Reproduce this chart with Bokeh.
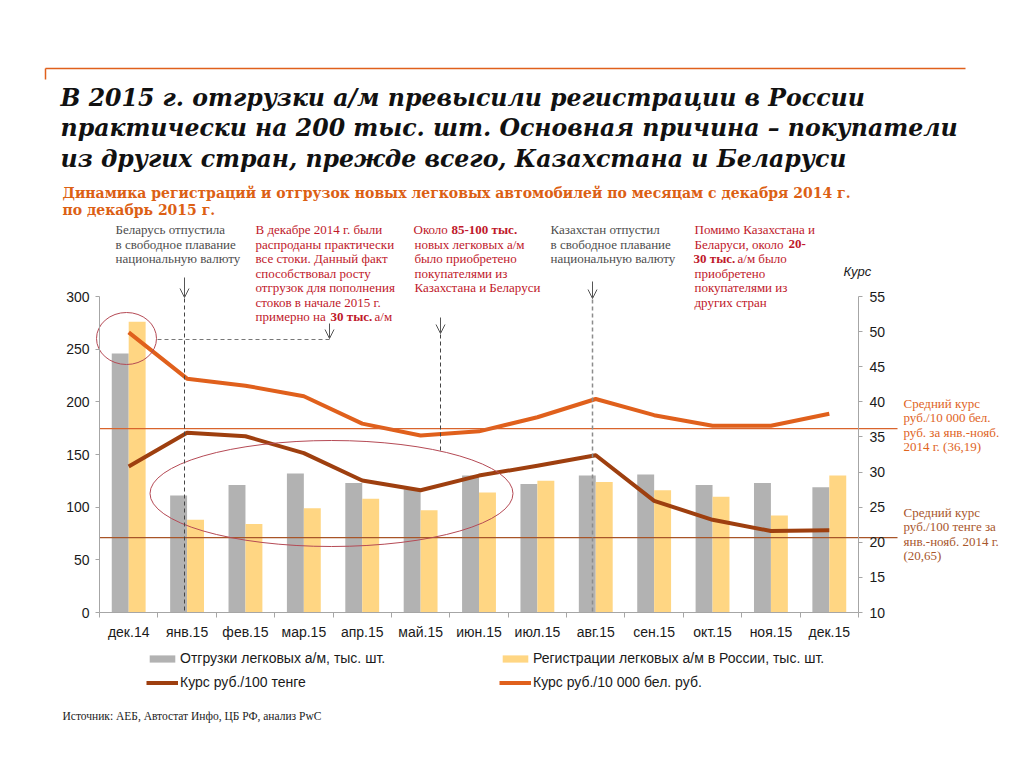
from bokeh.plotting import figure
from bokeh.models import (Range1d, LinearAxis, FixedTicker, Label, Arrow, OpenHead,
                          Legend, LegendItem, ColumnDataSource)
from bokeh.transform import dodge
from bokeh.embed import file_html
from bokeh.resources import INLINE

# ---------------- data ----------------
months = ["дек.14", "янв.15", "фев.15", "мар.15", "апр.15", "май.15", "июн.15",
          "июл.15", "авг.15", "сен.15", "окт.15", "ноя.15", "дек.15"]
shipments = [246, 111, 121, 132, 123, 117, 130, 122, 130, 131, 121, 123, 119]
registrations = [276, 88, 84, 99, 108, 97, 114, 125, 124, 116, 110, 92, 130]
rate_kzt = [30.8, 35.6, 35.1, 32.7, 28.8, 27.4, 29.5, 30.9, 32.4, 25.9, 23.2, 21.6, 21.7]
rate_byr = [49.9, 43.3, 42.3, 40.8, 36.9, 35.2, 35.8, 37.8, 40.4, 38.1, 36.6, 36.6, 38.3]
avg_byr = 36.19
avg_kzt = 20.65
left_ticks = [0, 50, 100, 150, 200, 250, 300]
right_ticks = [10, 15, 20, 25, 30, 35, 40, 45, 50, 55]

# ---------------- styles ----------------
GREY = "#b2b2b2"
YELLOW = "#ffd683"
ORANGE = "#e0601c"
BROWN = "#9e3f0f"
RED_TXT = "#c0182a"
GREY_TXT = "#4d4d4d"
SERIF = "Liberation Serif"
HSERIF = "DejaVu Serif"
SANS = "Liberation Sans"

W, H = 1016, 760
# pixel geometry of the chart area (canvas pixels)
PX_L, PX_R, PY_B, PY_T = 99, 858, 612, 296
SX = (PX_R - PX_L) / 13.0          # px per category
SY = (PY_B - PY_T) / 300.0         # px per left-axis unit
SR = (PY_B - PY_T) / 45.0          # px per right-axis unit
x0 = -0.5 - PX_L / SX
x1 = -0.5 + (W - PX_L) / SX
y0 = -(H - PY_B) / SY
y1 = 300 + PY_T / SY
r0 = 10 - (H - PY_B) / SR
r1 = 55 + PY_T / SR


def X(px):
    return x0 + px / SX


def Y(py):
    return y0 + (H - py) / SY


src = ColumnDataSource(dict(x=list(range(len(months))), ship=shipments, reg=registrations,
                            kzt=rate_kzt, byr=rate_byr))

p = figure(width=W, height=H, output_backend="svg", toolbar_location=None,
           x_range=Range1d(x0, x1), y_range=Range1d(y0, y1),
           min_border_left=0, min_border_right=0, min_border_top=0, min_border_bottom=0)
p.extra_y_ranges = {"right": Range1d(r0, r1)}
p.outline_line_color = None
p.xgrid.visible = False
p.ygrid.visible = False
p.background_fill_color = "white"
p.border_fill_color = "white"

# axes
xa = p.xaxis[0]
xa.fixed_location = 0
xa.bounds = (-0.5, 12.5)
xa.ticker = FixedTicker(ticks=list(range(13)), minor_ticks=[i - 0.5 for i in range(14)])
xa.major_label_overrides = {i: m for i, m in enumerate(months)}
xa.major_tick_line_color = None
xa.minor_tick_out = 5
xa.minor_tick_in = 0
xa.minor_tick_line_color = "#a6a6a6"
xa.axis_line_color = "#a6a6a6"
xa.major_label_text_font = SANS
xa.major_label_text_font_size = "14px"
xa.major_label_text_color = "#1a1a1a"
xa.major_label_standoff = 5

ya = p.yaxis[0]
ya.fixed_location = -0.5
ya.bounds = (0, 300)
ya.ticker = FixedTicker(ticks=left_ticks)
ya.minor_tick_line_color = None
ya.major_tick_out = 4
ya.major_tick_in = 0
ya.major_tick_line_color = "#a6a6a6"
ya.axis_line_color = "#a6a6a6"
ya.major_label_text_font = SANS
ya.major_label_text_font_size = "14px"
ya.major_label_text_color = "#1a1a1a"
ya.major_label_standoff = 6

ra = LinearAxis(y_range_name="right", ticker=FixedTicker(ticks=right_ticks),
                fixed_location=12.5, bounds=(10, 55))
ra.minor_tick_line_color = None
ra.major_tick_out = 4
ra.major_tick_in = 0
ra.major_tick_line_color = "#a6a6a6"
ra.axis_line_color = "#a6a6a6"
ra.major_label_text_font = SANS
ra.major_label_text_font_size = "14px"
ra.major_label_text_color = "#1a1a1a"
ra.major_label_standoff = 7
p.add_layout(ra, "right")

# bars
r_ship = p.vbar(x=dodge("x", -0.145, range=p.x_range), top="ship", width=0.29, source=src,
                fill_color=GREY, line_color=None)
r_reg = p.vbar(x=dodge("x", 0.145, range=p.x_range), top="reg", width=0.29, source=src,
               fill_color=YELLOW, line_color=None)

# lines
r_byr = p.line("x", "byr", source=src, y_range_name="right", line_color=ORANGE,
               line_width=4, line_join="round")
r_kzt = p.line("x", "kzt", source=src, y_range_name="right", line_color=BROWN,
               line_width=4, line_join="round")

# average reference lines (extend past the right axis)
p.segment(x0=[-0.5, -0.5], x1=[X(897), X(897)], y0=[avg_byr, avg_kzt], y1=[avg_byr, avg_kzt],
          y_range_name="right", line_color=["#d9642c", "#a85528"], line_width=1.2)

# ellipses
p.ellipse(x=[X(126), X(331)], y=[Y(338), Y(493)], width=[60 / SX, 363 / SX],
          height=[52 / SY, 106 / SY], fill_color=None, line_color="#b54a55", line_width=1)


def seg(xa_, ya_, xb, yb, color="#444444", dash="4 3", head=False, width=1):
    p.add_layout(Arrow(x_start=X(xa_), y_start=Y(ya_), x_end=X(xb), y_end=Y(yb),
                       line_color=color, line_width=width, line_dash=dash, start=None,
                       end=OpenHead(size=9, line_color="#555555", line_width=1) if head else None))


# arrows and dashed leaders
seg(184, 277, 184, 297, dash="solid", head=True, color="#555555")
seg(184, 298, 184, 612)
seg(440, 317, 440, 333, dash="solid", head=True, color="#555555")
seg(440, 334, 440, 452)
seg(592, 281, 592, 298, dash="solid", head=True, color="#555555")
seg(592, 299, 592, 612, color="#8c8c8c", width=1.5)
seg(157, 339, 329, 339, color="#777777")
seg(329, 323, 329, 338, dash="solid", head=True, color="#555555")

# header rule
seg(45, 68, 965, 68, color=ORANGE, dash="solid", width=1.5)
seg(45, 68, 45, 79, color=ORANGE, dash="solid", width=1.5)


def lab(px, py, text, color="#1a1a1a", size="13px", font=SERIF, style="normal",
        baseline="middle"):
    p.add_layout(Label(x=X(px), y=Y(py), text=text, text_color=color, text_font_size=size,
                       text_font=font, text_font_style=style, text_baseline=baseline,
                       text_align="left"))


# title
for i, t in enumerate(["В 2015 г. отгрузки а/м превысили регистрации в России",
                       "практически на 200 тыс. шт. Основная причина – покупатели",
                       "из других стран, прежде всего, Казахстана и Беларуси"]):
    lab(60, 97 + i * 30.5, t, color="#111111", size="23.6px", font=HSERIF,
        style="bold italic", baseline="alphabetic")

for i, t in enumerate(["Динамика регистраций и отгрузок новых легковых автомобилей по месяцам с декабря 2014 г.",
                       "по декабрь 2015 г."]):
    lab(62, 192 + i * 17.5, t, color="#dc6014", size="14px", font=HSERIF, style="bold",
        baseline="alphabetic")

# annotations
LY = [228.5, 243.5, 258, 272.5, 287, 301.5, 315.5]
for i, t in enumerate(["Беларусь отпустила", "в свободное плавание", "национальную валюту"]):
    lab(115, LY[i], t, color=GREY_TXT)
for i, t in enumerate(["В декабре 2014 г. были", "распроданы практически", "все стоки. Данный факт",
                       "способствовал росту", "отгрузок для пополнения", "стоков в начале 2015 г.",
                       "примерно на"]):
    lab(255, LY[i], t, color=RED_TXT)
lab(330, LY[6], "30 тыс.", color=RED_TXT, style="bold")
lab(374, LY[6], "а/м", color=RED_TXT)

lab(413, LY[0], "Около", color=RED_TXT)
lab(451, LY[0], "85-100 тыс.", color=RED_TXT, style="bold")
for i, t in enumerate(["новых легковых а/м", "было приобретено", "покупателями из",
                       "Казахстана и Беларуси"]):
    lab(414, LY[i + 1], t, color=RED_TXT)

for i, t in enumerate(["Казахстан отпустил", "в свободное плавание", "национальную валюту"]):
    lab(550, LY[i], t, color=GREY_TXT)

lab(694, LY[0], "Помимо Казахстана и", color=RED_TXT)
lab(694, LY[1], "Беларуси, около", color=RED_TXT)
lab(788, LY[1], "20-", color=RED_TXT, style="bold")
lab(693, LY[2], "30 тыс.", color=RED_TXT, style="bold")
lab(737, LY[2], "а/м было", color=RED_TXT)
for i, t in enumerate(["приобретено", "покупателями из", "других стран"]):
    lab(694, LY[i + 3], t, color=RED_TXT)

lab(843, 271, "Курс", font=SANS, style="italic", size="13px")

for i, t in enumerate(["Средний курс", "руб./10 000 бел.", "руб. за янв.-нояб.", "2014 г. (36,19)"]):
    lab(903, 403 + i * 14.3, t, color="#e0641e")
for i, t in enumerate(["Средний курс", "руб./100 тенге за", "янв.-нояб. 2014 г.", "(20,65)"]):
    lab(903, 512 + i * 14.3, t, color="#a8562c")

lab(62, 715, "Источник: АЕБ, Автостат Инфо, ЦБ РФ, анализ PwC", size="11.5px", color="#222222")


# legends
def mk_legend(items, px_left):
    lg = Legend(items=items, location=(px_left, H - 690), orientation="vertical",
                glyph_width=32, glyph_height=9, label_height=9, label_standoff=2, spacing=8,
                padding=0, margin=0, border_line_color=None, background_fill_alpha=0,
                label_text_font=SANS, label_text_font_size="14px", label_text_color="#1a1a1a")
    p.add_layout(lg)


mk_legend([LegendItem(label="Отгрузки легковых а/м, тыс. шт.", renderers=[r_ship]),
           LegendItem(label="Курс руб./100 тенге", renderers=[r_kzt])], 146)
mk_legend([LegendItem(label="Регистрации легковых а/м в России, тыс. шт.", renderers=[r_reg]),
           LegendItem(label="Курс руб./10 000 бел. руб.", renderers=[r_byr])], 499)

open("out.html", "w").write(file_html(p, INLINE))
